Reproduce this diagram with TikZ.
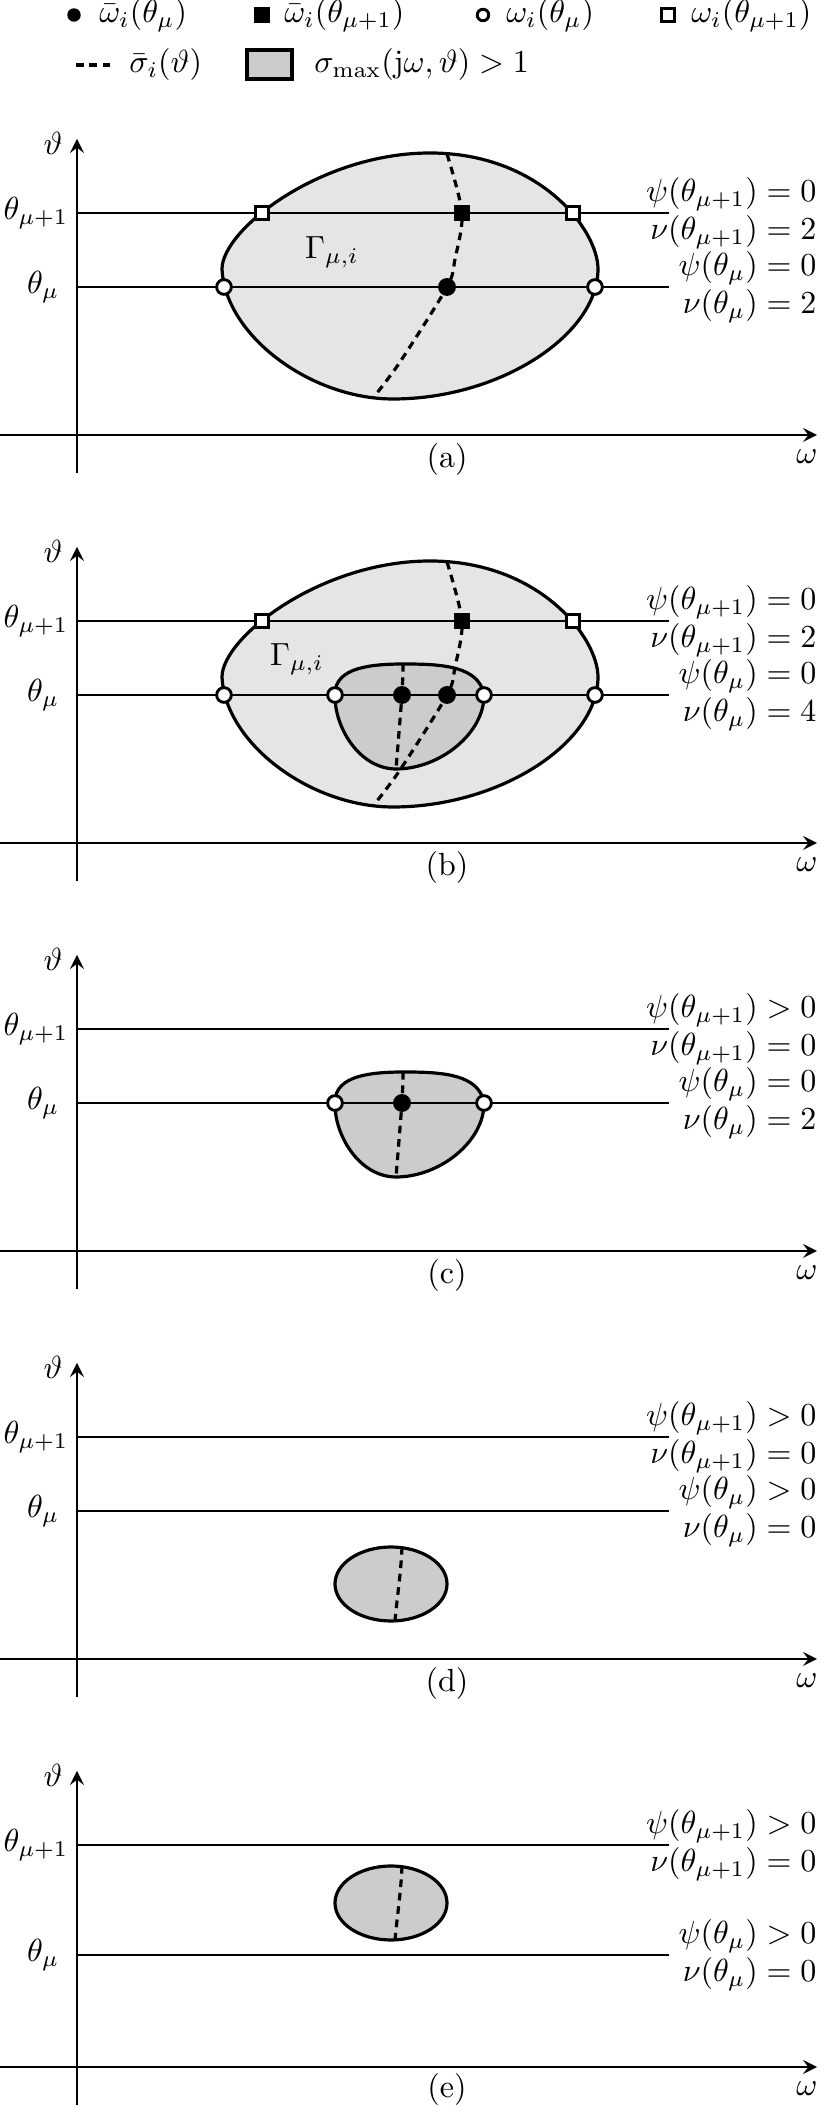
\documentclass[tikz,border=0pt]{standalone}
\usepackage{amsmath,amssymb}

\begin{document}
\begin{tikzpicture}[>=stealth, x=0.3125pt, y=0.3125pt,
  axis/.style={->, line width=0.9pt},
  level/.style={line width=0.5pt},
  region/.style={line width=1pt, fill=gray!20},
  subregion/.style={line width=1pt, fill=gray!40},
  sigline/.style={line width=1pt, dash pattern=on 2.4pt off 1.8pt},
  wbar/.style={circle, fill=black, inner sep=0pt, minimum size=5.6pt},
  wbarsq/.style={rectangle, fill=black, inner sep=0pt, minimum size=4.7pt},
  wpt/.style={circle, draw, line width=0.9pt, fill=white, inner sep=0pt, minimum size=4.6pt},
  wptsq/.style={rectangle, draw, line width=0.9pt, fill=white, inner sep=0pt, minimum size=4pt},
  tlab/.style={left, inner sep=0pt},
  tlabup/.style={right, inner sep=0pt},
  cond/.style={anchor=east, align=right, inner sep=0pt}]
  \useasboundingbox (0,0) rectangle (830,2106);

  % legend: markers, sigma-bar curve and the region sigma_max > 1
  \node[wbar, minimum size=4.2pt] (lg1) at (74,2091) {};
  \node[right] (lgt1) at (88,2091) {$\bar\omega_i(\theta_\mu)$};
  \node[wbarsq] (lg2) at (262,2091) {};
  \node[right] (lgt2) at (273,2091) {$\bar\omega_i(\theta_{\mu+1})$};
  \node[wpt, minimum size=3.6pt] (lg3) at (483,2091) {};
  \node[right] (lgt3) at (495,2091) {$\omega_i(\theta_\mu)$};
  \node[wptsq] (lg4) at (668,2091) {};
  \node[right] (lgt4) at (680,2091) {$\omega_i(\theta_{\mu+1})$};
  \draw[sigline] (76,2041) -- (110,2041);
  \node[right] (lgt5) at (118,2041) {$\bar\sigma_i(\vartheta)$};
  \draw[line width=1pt, fill=gray!40] (247,2027) rectangle (292,2056);
  \node[right] (lgt6) at (303,2041) {$\sigma_{\max}(\mathrm{j}\omega,\vartheta)>1$};

  % (a) one region Gamma, cut by both levels
  \begin{scope}[shift={(0,1671)}]
    \draw[region] (222,166) .. controls (222,205) and (320,282) .. (430,282)
      .. controls (540,282) and (598,205) .. (598,166)
      .. controls (598,100) and (500,36) .. (393,36)
      .. controls (310,36) and (225,100) .. cycle;
    \draw[level] (77,222) -- (669,222);
    \draw[level] (77,148) -- (669,148);
    \draw[axis] (0,0) -- (817,0);
    \draw[axis] (77,-38) -- (77,296);
    \draw[sigline] plot[smooth] coordinates {(447,281) (462,222) (455,176) (447,148) (400,73) (373,37)};
    \node[wptsq] (a-s1) at (262,222) {};
    \node[wptsq] (a-s2) at (573,222) {};
    \node[wbarsq] (a-s0) at (462,222) {};
    \node[wpt] (a-c1) at (224,148) {};
    \node[wpt] (a-c2) at (595,148) {};
    \node[wbar] (a-c0) at (447,148) {};
    \node (a-gam) at (332,183) {$\Gamma_{\mu,i}$};
    \node[tlabup] (a-t1) at (3,222) {$\theta_{\mu+1}$};
    \node[tlab] (a-t0) at (60,148) {$\theta_\mu$};
    \node (a-th) at (53,292) {$\vartheta$};
    \node (a-om) at (807,-22) {$\omega$};
    \node (a-cap) at (447,-25) {(a)};
    \node[cond] (a-up) at (817,222) {$\psi(\theta_{\mu+1})=0$\\$\nu(\theta_{\mu+1})=2$};
    \node[cond] (a-lo) at (817,148) {$\psi(\theta_\mu)=0$\\$\nu(\theta_\mu)=2$};
  \end{scope}

  % (b) a second region appears inside Gamma
  \begin{scope}[shift={(0,1263)}]
    \draw[region] (222,166) .. controls (222,205) and (320,282) .. (430,282)
      .. controls (540,282) and (598,205) .. (598,166)
      .. controls (598,100) and (500,36) .. (393,36)
      .. controls (310,36) and (225,100) .. cycle;
    \draw[subregion] (335,149) .. controls (335,176) and (372,179) .. (405,179)
      .. controls (445,179) and (478,176) .. (484,149)
      .. controls (485,110) and (440,74) .. (396,74)
      .. controls (360,74) and (334,115) .. cycle;
    \draw[level] (77,222) -- (669,222);
    \draw[level] (77,148) -- (669,148);
    \draw[axis] (0,0) -- (817,0);
    \draw[axis] (77,-38) -- (77,296);
    \draw[sigline] plot[smooth] coordinates {(447,281) (462,222) (455,176) (447,148) (400,73) (373,37)};
    \draw[sigline] plot[smooth] coordinates {(403,179) (402,149) (396,74)};
    \node[wptsq] (b-s1) at (262,222) {};
    \node[wptsq] (b-s2) at (573,222) {};
    \node[wbarsq] (b-s0) at (462,222) {};
    \foreach \c/\xc in {1/224,2/335,3/484,4/595}
      \node[wpt] (b-c\c) at (\xc,148) {};
    \node[wbar] (b-c5) at (402,148) {};
    \node[wbar] (b-c6) at (447,148) {};
    \node (b-gam) at (297,184) {$\Gamma_{\mu,i}$};
    \node[tlabup] (b-t1) at (3,222) {$\theta_{\mu+1}$};
    \node[tlab] (b-t0) at (60,148) {$\theta_\mu$};
    \node (b-th) at (53,292) {$\vartheta$};
    \node (b-om) at (807,-22) {$\omega$};
    \node (b-cap) at (447,-25) {(b)};
    \node[cond] (b-up) at (817,222) {$\psi(\theta_{\mu+1})=0$\\$\nu(\theta_{\mu+1})=2$};
    \node[cond] (b-lo) at (817,148) {$\psi(\theta_\mu)=0$\\$\nu(\theta_\mu)=4$};
  \end{scope}

  % (c) only the inner region is left
  \begin{scope}[shift={(0,855)}]
    \draw[subregion] (335,149) .. controls (335,176) and (372,179) .. (405,179)
      .. controls (445,179) and (478,176) .. (484,149)
      .. controls (485,110) and (440,74) .. (396,74)
      .. controls (360,74) and (334,115) .. cycle;
    \draw[level] (77,222) -- (669,222);
    \draw[level] (77,148) -- (669,148);
    \draw[axis] (0,0) -- (817,0);
    \draw[axis] (77,-38) -- (77,296);
    \draw[sigline] plot[smooth] coordinates {(403,179) (402,149) (396,74)};
    \node[wpt] (c-c1) at (335,148) {};
    \node[wpt] (c-c2) at (484,148) {};
    \node[wbar] (c-c0) at (402,148) {};
    \node[tlabup] (c-t1) at (3,222) {$\theta_{\mu+1}$};
    \node[tlab] (c-t0) at (60,148) {$\theta_\mu$};
    \node (c-th) at (53,292) {$\vartheta$};
    \node (c-om) at (807,-22) {$\omega$};
    \node (c-cap) at (447,-25) {(c)};
    \node[cond] (c-up) at (817,222) {$\psi(\theta_{\mu+1})>0$\\$\nu(\theta_{\mu+1})=0$};
    \node[cond] (c-lo) at (817,148) {$\psi(\theta_\mu)=0$\\$\nu(\theta_\mu)=2$};
  \end{scope}

  % (d) region below theta_mu
  \begin{scope}[shift={(0,447)}]
    \draw[subregion] (391,75) ellipse [x radius=56, y radius=37];
    \draw[level] (77,222) -- (669,222);
    \draw[level] (77,148) -- (669,148);
    \draw[axis] (0,0) -- (817,0);
    \draw[axis] (77,-38) -- (77,296);
    \draw[sigline] (402,112) .. controls (401,86) and (397,61) .. (395,38);
    \node[tlabup] (d-t1) at (3,222) {$\theta_{\mu+1}$};
    \node[tlab] (d-t0) at (60,148) {$\theta_\mu$};
    \node (d-th) at (53,292) {$\vartheta$};
    \node (d-om) at (807,-22) {$\omega$};
    \node (d-cap) at (447,-25) {(d)};
    \node[cond] (d-up) at (817,222) {$\psi(\theta_{\mu+1})>0$\\$\nu(\theta_{\mu+1})=0$};
    \node[cond] (d-lo) at (817,148) {$\psi(\theta_\mu)>0$\\$\nu(\theta_\mu)=0$};
  \end{scope}

  % (e) region between the levels
  \begin{scope}[shift={(0,39)}]
    \draw[subregion] (391,164) ellipse [x radius=56, y radius=37];
    \draw[level] (77,222) -- (669,222);
    \draw[level] (77,112) -- (669,112);
    \draw[axis] (0,0) -- (817,0);
    \draw[axis] (77,-38) -- (77,296);
    \draw[sigline] (402,201) .. controls (401,175) and (397,150) .. (395,127);
    \node[tlabup] (e-t1) at (3,222) {$\theta_{\mu+1}$};
    \node[tlab] (e-t0) at (60,112) {$\theta_\mu$};
    \node (e-th) at (53,292) {$\vartheta$};
    \node (e-om) at (807,-22) {$\omega$};
    \node (e-cap) at (447,-23) {(e)};
    \node[cond] (e-up) at (817,222) {$\psi(\theta_{\mu+1})>0$\\$\nu(\theta_{\mu+1})=0$};
    \node[cond] (e-lo) at (817,112) {$\psi(\theta_\mu)>0$\\$\nu(\theta_\mu)=0$};
  \end{scope}
\end{tikzpicture}
\end{document}
